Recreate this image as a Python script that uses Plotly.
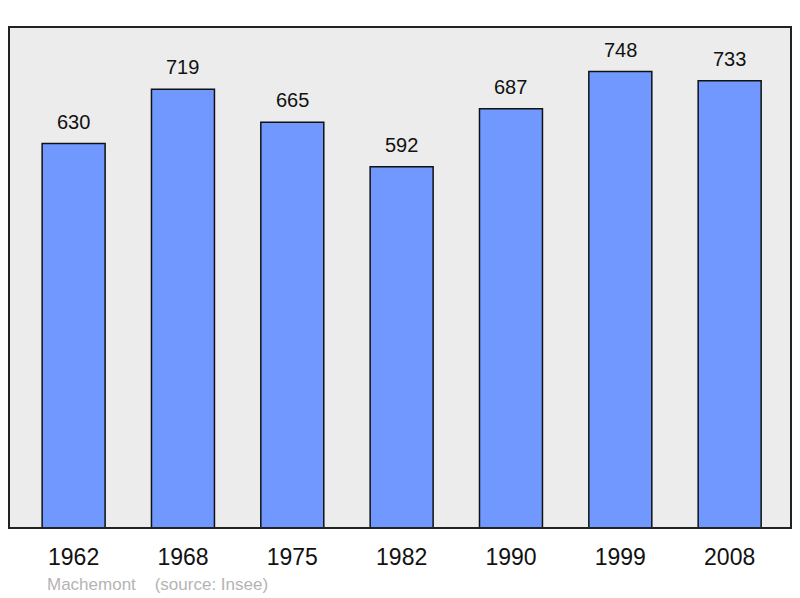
import plotly.graph_objects as go

years = ["1962", "1968", "1975", "1982", "1990", "1999", "2008"]
population = [630, 719, 665, 592, 687, 748, 733]
footer = "Machemont    (source: Insee)"

x_idx = list(range(len(years)))

fig = go.Figure()
fig.add_trace(go.Bar(
    x=x_idx, y=population, width=0.576,
    marker=dict(color="#7098ff", line=dict(color="#111111", width=1.5)),
    hoverinfo="skip",
))

for i, v in zip(x_idx, population):
    fig.add_annotation(x=i, y=v, text=str(v), showarrow=False,
                       yanchor="bottom", yshift=9,
                       font=dict(family="Liberation Sans, Arial, sans-serif", size=20, color="#111111"))

fig.add_annotation(xref="paper", yref="paper", x=(45 - 8.5) / 782.5, y=-0.112,
                   text=footer.replace(" ", "&nbsp;"), showarrow=False, xanchor="left", yanchor="middle",
                   font=dict(family="Liberation Sans, Arial, sans-serif", size=17, color="#b4b4b4"))

fig.add_shape(type="rect", xref="paper", yref="paper", x0=0, x1=1, y0=0, y1=1,
              line=dict(color="#222222", width=2), layer="above")

fig.update_layout(
    width=792, height=590,
    margin=dict(l=0.5, r=9, t=19, b=70),
    paper_bgcolor="white", plot_bgcolor="#ececec",
    showlegend=False,
    xaxis=dict(range=[-0.591, 6.561], tickvals=x_idx, ticktext=years,
               showgrid=False, zeroline=False, showline=False,
               ticks="outside", ticklen=8, tickcolor="rgba(0,0,0,0)",
               tickfont=dict(family="Liberation Sans, Arial, sans-serif", size=23, color="#111111"),
               fixedrange=True),
    yaxis=dict(range=[0, 821], showgrid=False, zeroline=False, showline=False,
               showticklabels=False, fixedrange=True),
)

fig.write_html("out.html")
